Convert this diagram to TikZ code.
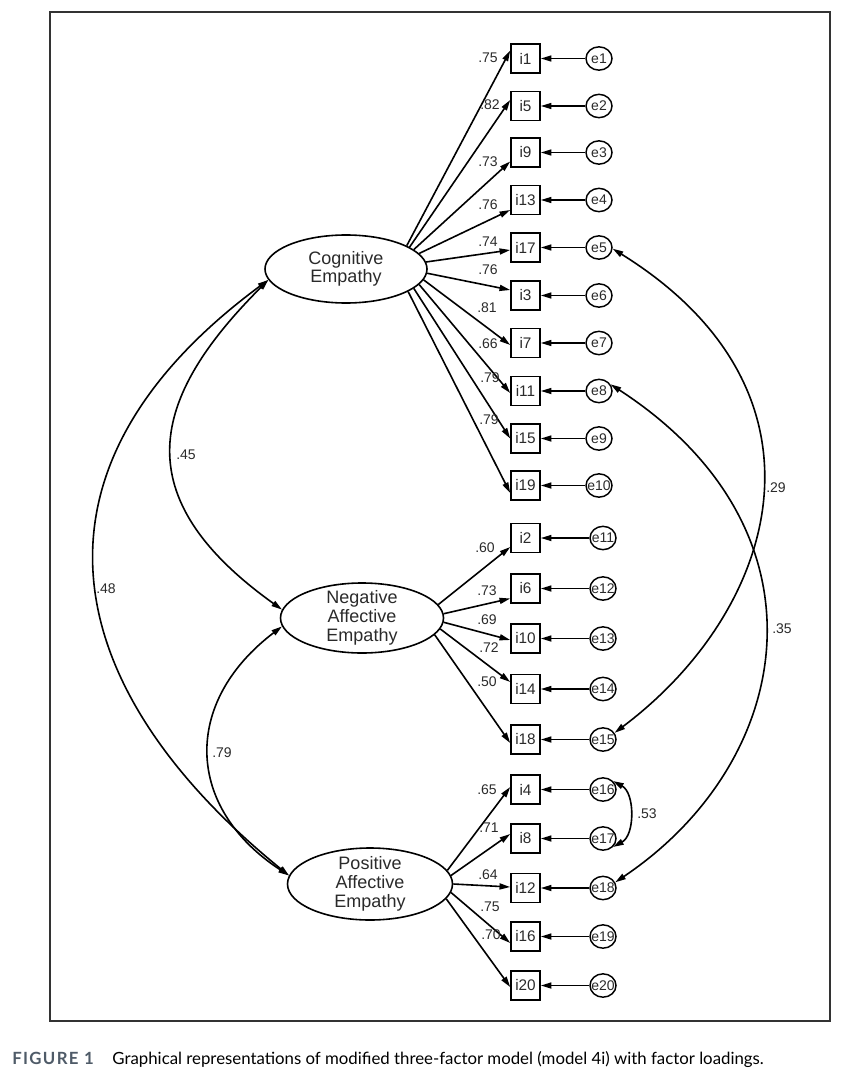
\documentclass[tikz,border=0pt]{standalone}
\usepackage{fontspec}
\setmainfont{Liberation Sans}
\newfontfamily\capfont{Lato}
\newfontfamily\capfontsp[LetterSpace=8]{Lato}
\usetikzlibrary{shapes.geometric,arrows.meta,calc}
\definecolor{txt}{HTML}{2A2A2A}
\definecolor{capblue}{HTML}{4F5B68}
\begin{document}
\begin{tikzpicture}[x=0.75pt,y=-0.75pt,
  item/.style={draw,line width=1.2pt,minimum width=21.75pt,minimum height=21.75pt,inner sep=0pt,text=txt,font=\fontsize{11.5}{12}\selectfont},
  err/.style={draw,ellipse,line width=1.1pt,minimum width=19.5pt,minimum height=17.5pt,inner xsep=-2pt,inner ysep=0pt,text=txt,font=\fontsize{10.5}{11}\selectfont},
  factor/.style={draw,ellipse,line width=1.2pt,inner xsep=0pt,inner ysep=-2pt,align=center,text=txt,font=\fontsize{13.5}{14}\selectfont},
  tip/.tip={Triangle[length=8pt,width=4.5pt]},
  load/.style={line width=1.2pt,-tip},
  cov/.style={line width=1.2pt,tip-tip},
  lbl/.style={font=\fontsize{10.5}{11}\selectfont,text=txt,inner sep=0pt}
]
\useasboundingbox (0,0) rectangle (865,1081);
\draw[line width=1.6pt,black!80] (50,12) rectangle (830,1021);

% factors
\node[factor,minimum width=121.5pt,minimum height=51pt] (ce) at (346,269) {Cognitive\\Empathy};
\node[factor,minimum width=122.25pt,minimum height=52.5pt] (nae) at (362,618) {Negative\\Affective\\Empathy};
\node[factor,minimum width=123.75pt,minimum height=54pt] (pae) at (370,884) {Positive\\Affective\\Empathy};

% items and errors
\foreach \n/\y [count=\k] in {1/58.5,5/106,9/152.5,13/200,17/247.5,3/295.5,7/343,11/391,15/438.5,19/485.5}{
  \node[item] (i\n) at (525.5,\y) {i\n};
  \node[err] (e\k) at (599,\y) {e\k};
  \draw[load] (e\k) -- (i\n);
}
\foreach \n/\y [count=\k, evaluate=\k as \kk using int(\k+10)] in {2/538,6/588.5,10/638.5,14/689,18/739.5}{
  \node[item] (i\n) at (525.5,\y) {i\n};
  \node[err] (e\kk) at (603,\y) {e\kk};
  \draw[load] (e\kk) -- (i\n);
}
\foreach \n/\y [count=\k, evaluate=\k as \kk using int(\k+15)] in {4/789.5,8/838.5,12/888,16/936.5,20/985.5}{
  \node[item] (i\n) at (525.5,\y) {i\n};
  \node[err] (e\kk) at (603,\y) {e\kk};
  \draw[load] (e\kk) -- (i\n);
}

% loadings
\foreach \it/\a/\o in {i1/21.5/-8,i5/19/-6,i9/16/9,i13/12/10,i17/5/2.5,i3/-3/-5.5,i7/-8/2,i11/-12/2,i15/-16/0,i19/-20.5/7.5}
  \draw[load] (ce.\a) -- ($(\it.west)+(0,\o)$);
\foreach \it/\a/\o in {i2/10.5/9,i6/3.5/10,i10/-3.5/1.5,i14/-8.7/-7,i18/-13/3.5}
  \draw[load] (nae.\a) -- ($(\it.west)+(0,\o)$);
\foreach \it/\a/\o in {i4/10.6/-2.5,i8/6.4/-4.5,i12/0/-1,i16/-6.4/6.5,i20/-11.7/1.5}
  \draw[load] (pae.\a) -- ($(\it.west)+(0,\o)$);

% loading labels
\foreach \t/\x/\y [count=\k] in {.75/488/58,.82/490/105,.73/488/162,.76/488/205,.74/488/242,.76/488/270,.81/487/308,.66/488/344,.79/490/378,.79/489/420,
  .60/485/548,.73/487/591,.69/487/620,.72/489/648,.50/487/682,
  .65/487/790,.71/489/828,.64/488/875,.75/490/907,.70/491/935}
  \node[lbl] (ll\k) at (\x,\y) {\t};

% covariances
\draw[cov] (ce.188) .. controls +(-118,118) and +(-158,-113) .. (nae.174);
\draw[cov] (ce.188) .. controls +(-260,192) and +(-228,-185) .. (pae.174);
\draw[cov] (nae.186) .. controls +(-100,76) and +(-104,-68) .. (pae.174);
\draw[cov] (e5.-5) .. controls +(230,143) and +(165,-124) .. (e15.30);
\draw[cov] (e8.30) .. controls +(225,146) and +(180,-121) .. (e18.25);
\draw[cov] (e16.40) .. controls +(22,12) and +(22,-12) .. (e17.-40);

\node[lbl] (c45) at (186,455) {.45};
\node[lbl] (c48) at (106,589) {.48};
\node[lbl] (c79) at (222,753) {.79};
\node[lbl] (c29) at (776,488) {.29};
\node[lbl] (c35) at (782,629) {.35};
\node[lbl] (c53) at (647,814) {.53};

% caption
\node[anchor=west,inner sep=0pt,font=\fontsize{12.6}{14}\selectfont] (cap) at (12,1060)
  {{\capfontsp\bfseries\color{capblue}FIGURE 1}\hspace{14pt}{\capfont Graphical representations of modified three-factor model (model 4i) with factor loadings.}};
\end{tikzpicture}
\end{document}
